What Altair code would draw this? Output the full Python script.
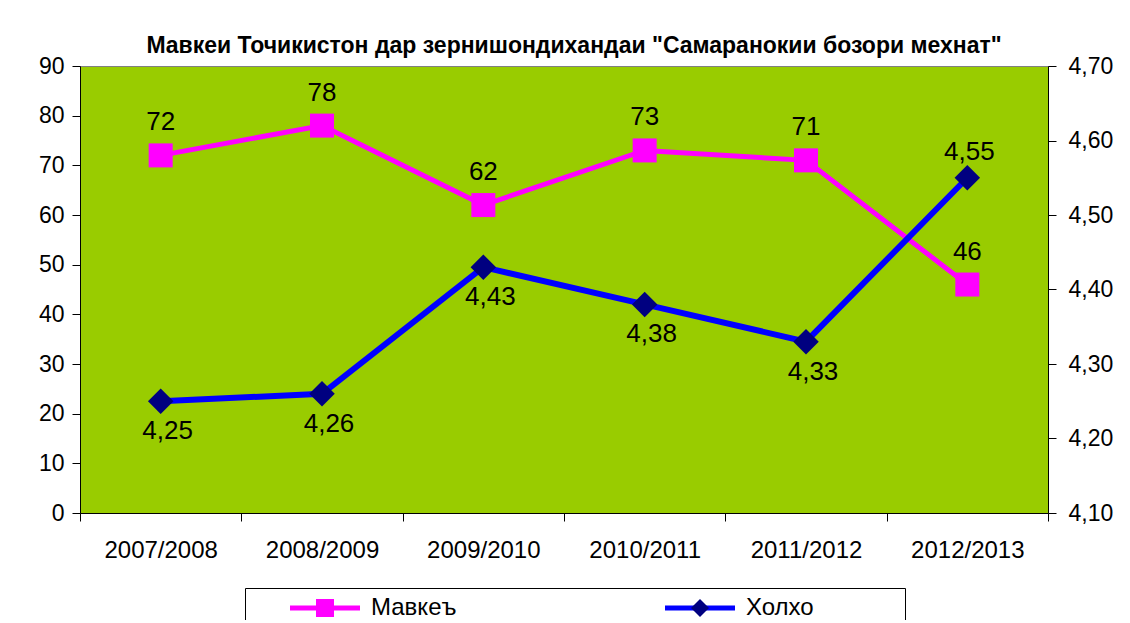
import altair as alt
import pandas as pd

# ---- data ----
seasons = ["2007/2008", "2008/2009", "2009/2010", "2010/2011", "2011/2012", "2012/2013"]
mavke = [72, 78, 62, 73, 71, 46]
holxo = [4.25, 4.26, 4.43, 4.38, 4.33, 4.55]
series_names = ["Мавкеъ", "Холхо"]
left_ticks = [0, 10, 20, 30, 40, 50, 60, 70, 80, 90]
right_ticks = [4.1, 4.2, 4.3, 4.4, 4.5, 4.6, 4.7]
title_text = 'Мавкеи Точикистон дар зернишондихандаи "Самаранокии бозори мехнат"'

FONT = "Liberation Sans"
MAGENTA = "#FF00FF"
BLUE = "#0000FF"
NAVY = "#000080"

df_m = pd.DataFrame({"season": seasons, "value": mavke, "series": series_names[0]})
df_h = pd.DataFrame({"season": seasons, "value": holxo, "series": series_names[1]})
df_h["label"] = [f"{v:.2f}".replace(".", ",") for v in holxo]

x_enc = alt.X(
    "season:N", sort=seasons,
    scale=alt.Scale(type="band", paddingInner=0, paddingOuter=0),
    axis=alt.Axis(title=None, labelAngle=0, tickBand="extent", tickSize=8, labelPadding=17,
                  labelFontSize=24, labelFont=FONT, labelColor="black",
                  domainColor="black", tickColor="black", grid=False),
)

left_axis = alt.Axis(title=None, values=left_ticks, grid=False, tickSize=8, labelPadding=8,
                     labelFontSize=23, labelFont=FONT, labelColor="black",
                     domainColor="black", tickColor="black")
right_axis = alt.Axis(title=None, orient="right", values=right_ticks, grid=False, tickSize=8,
                      labelPadding=12, labelFontSize=23, labelFont=FONT, labelColor="black",
                      domainColor="black", tickColor="black",
                      labelExpr="replace(format(datum.value, '.2f'), '.', ',')")

legend_common = dict(orient="none", legendX=165, legendY=522, direction="horizontal",
                     labelFontSize=24, labelFont=FONT, labelColor="black", padding=8)

legend_lines = alt.Legend(title=" ", titleOrient="right", titleFontSize=24, titlePadding=83,
                          symbolType="M-7,0H7", symbolSize=100, symbolStrokeWidth=5,
                          symbolOffset=60, labelOffset=34, columnPadding=171,
                          strokeColor="black", fillColor="white", **legend_common)
legend_marks = alt.Legend(title=None, symbolSize=324, symbolStrokeWidth=0, symbolOffset=60,
                          labelOffset=0, columnPadding=291, symbolOpacity=1,
                          labelExpr="''", **legend_common)

stroke_enc = alt.Stroke("series:N", scale=alt.Scale(domain=series_names, range=[MAGENTA, BLUE]),
                        legend=legend_lines)
fill_enc = alt.Fill("series:N", scale=alt.Scale(range=[MAGENTA, NAVY]), legend=legend_marks)
shape_enc = alt.Shape("series:N", scale=alt.Scale(range=["square", "diamond"]), legend=legend_marks)

y_m = alt.Y("value:Q", scale=alt.Scale(domain=[0, 90]), axis=left_axis)
y_h = alt.Y("value:Q", scale=alt.Scale(domain=[4.1, 4.7]), axis=right_axis)

base_m = alt.Chart(df_m).encode(x=x_enc, y=y_m)
m_line = base_m.mark_line(strokeWidth=5).encode(stroke=stroke_enc)
m_pts = base_m.mark_point(filled=True, size=576, opacity=1, strokeWidth=0).encode(fill=fill_enc, shape=shape_enc)
m_txt = base_m.mark_text(dy=-33, fontSize=26, font=FONT, color="black").encode(text="value:Q")

base_h = alt.Chart(df_h).encode(x=x_enc, y=y_h)
h_line = base_h.mark_line(strokeWidth=6).encode(stroke=stroke_enc)
h_pts = base_h.mark_point(filled=True, size=650, opacity=1, strokeWidth=0).encode(fill=fill_enc, shape=shape_enc)
h_txt_below = base_h.transform_filter(alt.datum.season != seasons[-1]).mark_text(
    dy=30, dx=7, fontSize=26, font=FONT, color="black").encode(text="label:N")
h_txt_above = base_h.transform_filter(alt.datum.season == seasons[-1]).mark_text(
    dy=-26, dx=2, fontSize=26, font=FONT, color="black").encode(text="label:N")

layer_m = alt.layer(m_line, m_pts, m_txt)
layer_h = alt.layer(h_line, h_pts, h_txt_below, h_txt_above)

chart = alt.layer(layer_m, layer_h).resolve_scale(y="independent").properties(
    width=968, height=447,
    title=alt.TitleParams(text=title_text, fontSize=23, font=FONT, fontWeight="bold",
                          anchor="middle", offset=-3, color="black", dx=10),
    autosize=alt.AutoSizeParams(type="none"),
    padding={"left": 72, "top": 58, "right": 74, "bottom": 107},
).configure(
    background="white",
    view=alt.ViewConfig(fill="#99CC00", stroke="#808080", strokeWidth=1),
)

chart.save("out.html", embed_options={"renderer": "svg", "actions": False})
